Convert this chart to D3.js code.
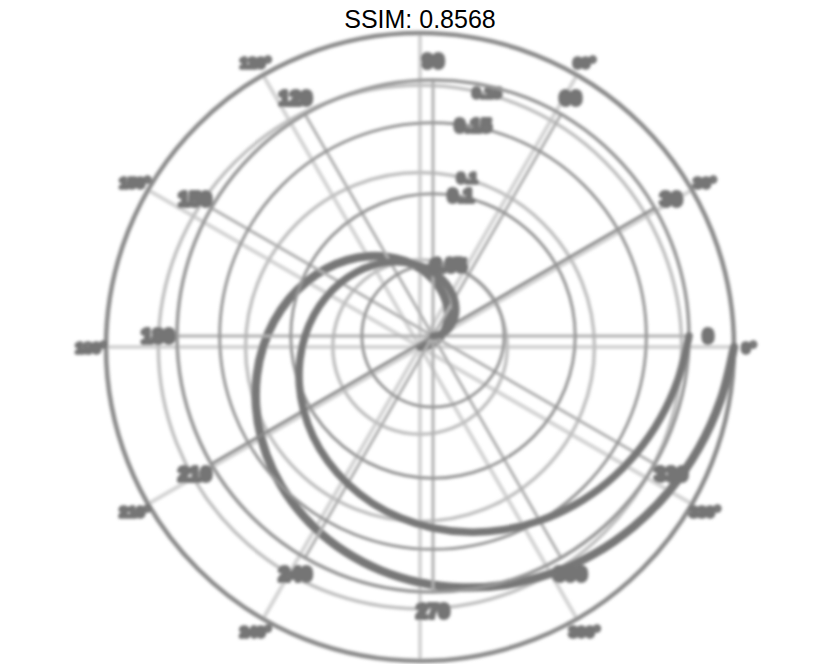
<!DOCTYPE html>
<html>
<head>
<meta charset="utf-8">
<script src="https://cdn.jsdelivr.net/npm/d3@7"></script>
<style>
  html, body { margin: 0; padding: 0; background: #fff; }
  svg { display: block; }
</style>
</head>
<body>
<svg id="chart" width="840" height="664"></svg>
<script>
// ---- data ----
const titleText = "SSIM: 0.8568";
const thetaDeg = [0,10,20,30,40,50,60,70,80,90,100,110,120,130,140,150,160,170,180,
                  190,200,210,220,230,240,250,260,270,280,290,300,310,320,330,340,350,360];
const rValues  = [0,0.005,0.010,0.015,0.020,0.025,0.030,0.035,0.040,0.045,0.050,0.055,0.060,
                  0.065,0.070,0.075,0.080,0.085,0.090,0.095,0.100,0.105,0.110,0.115,0.120,
                  0.125,0.130,0.135,0.140,0.145,0.150,0.155,0.160,0.165,0.170,0.175,0.180];
const angleTicks = [0,30,60,90,120,150,180,210,240,270,300,330];
const angleLabelsA = ["0","30","60","90","120","150","180","210","240","270","300","330"];
const angleLabelsB = ["0°","30°","60°","","120°","150°","180°","210°","240°","","300°","330°"];
const radialTicks = [0.05, 0.1, 0.15];
const radialLabels = ["0.05", "0.1", "0.15"];
const rMax = 0.18;

const svg = d3.select("#chart");
const defs = svg.append("defs");
defs.append("filter").attr("id","blur").attr("x","-5%").attr("y","-5%").attr("width","110%").attr("height","110%")
  .append("feGaussianBlur").attr("stdDeviation", 1.5);

const root = svg.append("g").attr("filter","url(#blur)");

const rad = d => d * Math.PI / 180;

function drawPolar(cfg) {
  const g = root.append("g").attr("transform", `translate(${cfg.cx},${cfg.cy})`);
  const r = d3.scaleLinear().domain([0, rMax]).range([0, cfg.outer]);
  // spokes
  g.selectAll("line.spoke").data(angleTicks).join("line")
    .attr("x1", 0).attr("y1", 0)
    .attr("x2", d => r(rMax) * Math.cos(rad(d)))
    .attr("y2", d => -r(rMax) * Math.sin(rad(d)))
    .attr("stroke", d => (cfg.darkSpoke.includes(d) ? cfg.darkSpokeColor : cfg.spokeColor))
    .attr("stroke-width", cfg.spokeWidth);
  // grid circles
  g.selectAll("circle.grid").data(radialTicks).join("circle")
    .attr("r", d => r(d)).attr("fill", "none")
    .attr("stroke", cfg.gridColor).attr("stroke-width", cfg.gridWidth);
  // outer circle
  g.append("circle").attr("r", r(rMax)).attr("fill","none")
    .attr("stroke", cfg.outerColor).attr("stroke-width", cfg.outerWidth);
  // spiral
  const pts = thetaDeg.map((t, i) => [t, rValues[i]]);
  const line = d3.lineRadial()
    .angle(d => Math.PI / 2 - rad(d[0]))
    .radius(d => r(d[1]))
    .curve(d3.curveCatmullRom);
  g.append("path").attr("d", line(pts)).attr("fill","none")
    .attr("stroke", "#777").attr("stroke-width", cfg.lineWidth).attr("stroke-linecap","round");
  // angular labels
  g.selectAll("text.ang").data(angleTicks).join("text")
    .attr("x", d => (r(rMax) + cfg.labelPad) * Math.cos(rad(d)))
    .attr("y", d => -(r(rMax) + cfg.labelPad) * Math.sin(rad(d)))
    .attr("text-anchor","middle").attr("dominant-baseline","central")
    .attr("font-family","Liberation Sans, Arial, sans-serif").attr("font-weight","bold")
    .attr("font-size", cfg.labelSize)
    .attr("fill","#747474").attr("stroke","#747474").attr("stroke-width", cfg.labelStroke)
    .attr("stroke-linejoin","round")
    .text((d, i) => cfg.angLabels[i]);
  // radial labels
  g.selectAll("text.rad").data(radialTicks).join("text")
    .attr("x", d => r(d) * Math.cos(rad(cfg.radAngle)) + cfg.radDx)
    .attr("y", d => -r(d) * Math.sin(rad(cfg.radAngle)))
    .attr("text-anchor","middle").attr("dominant-baseline","central")
    .attr("font-family","Liberation Sans, Arial, sans-serif").attr("font-weight","bold")
    .attr("font-size", cfg.radSize)
    .attr("fill","#747474").attr("stroke","#747474").attr("stroke-width", cfg.labelStroke)
    .attr("stroke-linejoin","round")
    .text((d, i) => radialLabels[i]);
}

// plot B (larger, lighter grid, degree labels)
drawPolar({
  cx: 420, cy: 347, outer: 314,
  spokeColor: "#d4d4d4", darkSpoke: [], darkSpokeColor: "#d4d4d4", spokeWidth: 4,
  gridColor: "#c0c0c0", gridWidth: 3.5,
  outerColor: "#8a8a8a", outerWidth: 4.5,
  lineWidth: 8.5,
  labelPad: 15, labelSize: 15, labelStroke: 3.6,
  angLabels: angleLabelsB,
  radAngle: 77, radDx: 8, radSize: 15
});
// plot A (smaller, darker grid, plain labels)
drawPolar({
  cx: 433, cy: 336, outer: 256,
  spokeColor: "#b0b0b0", darkSpoke: [30, 210], darkSpokeColor: "#8a8a8a", spokeWidth: 3,
  gridColor: "#969696", gridWidth: 3,
  outerColor: "#969696", outerWidth: 3.5,
  lineWidth: 7.5,
  labelPad: 19, labelSize: 20, labelStroke: 4,
  angLabels: angleLabelsA,
  radAngle: 80, radDx: 3, radSize: 19
});

// title
svg.append("text").attr("x", 420).attr("y", 28)
  .attr("text-anchor","middle")
  .attr("font-family","Liberation Sans, Arial, sans-serif")
  .attr("font-size", 25).attr("fill","#000")
  .text(titleText);
</script>
</body>
</html>
